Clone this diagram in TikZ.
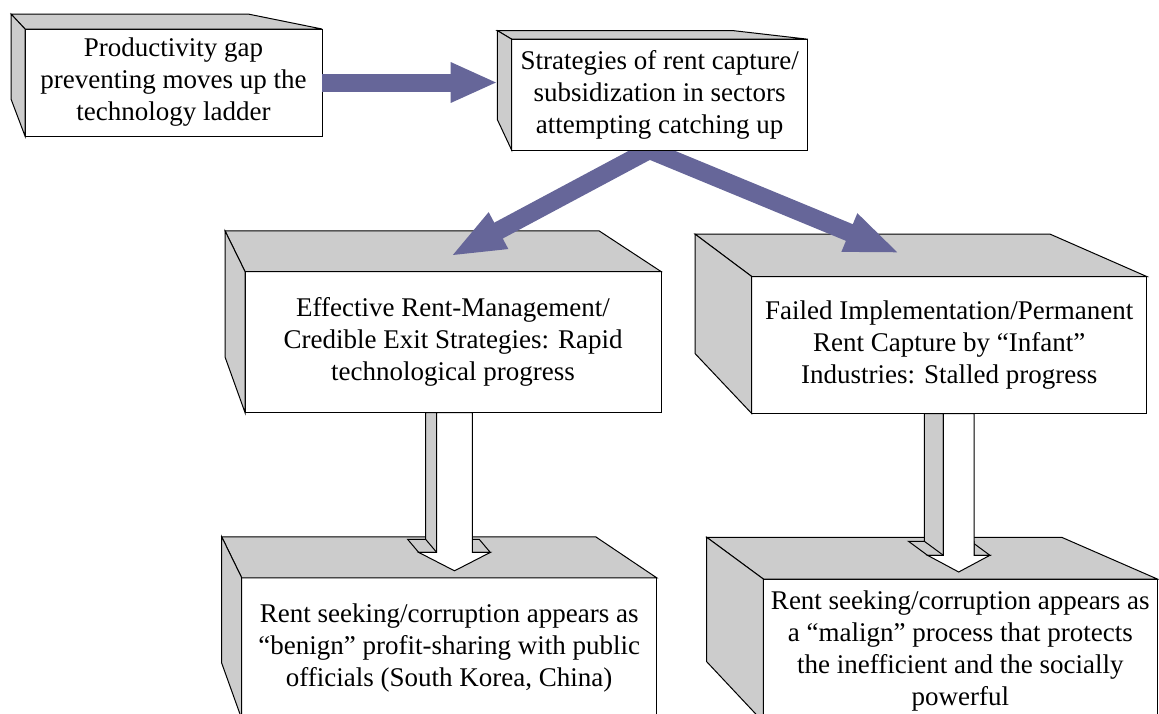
\documentclass[tikz,border=0pt]{standalone}
\usepackage{fontspec}
\setmainfont{Liberation Serif}
\usepackage{xcolor}
\usepackage{tikz}
\usetikzlibrary{calc, arrows.meta, positioning}

\definecolor{slate}{HTML}{666699}
\pgfdeclarelayer{front}
\pgfsetlayers{main,front}

\newcommand{\boxfaces}[5]{%
\draw[face] (#1.north west) -- ++(-#2,-#3) -- ($(#1.north east)+(-#4,-#3)$) -- (#1.north east) -- cycle;
\draw[face] (#1.north west) -- ++(-#2,-#3) -- ($(#1.south west)+(-#2,-#5)$) -- (#1.south west) -- cycle;
}

\newcommand{\blockarrow}[8]{%
\coordinate (#1top) at ($(#1.south)+(#3,0)$);
\coordinate (#1tip) at ($(#1top |- #2.north)+(0,-7)$);
\draw[face] ($(#1top)+(-#4-#7,0)$) -- ($(#1tip)+(-#4-#7,-#6-#8)$) -- ($(#1tip)+(-#5-#7,-#6-#8)$) -- ($(#1tip)+(-#5,-#6)$) -- ($(#1tip)+(-#4,-#6)$) -- ($(#1top)+(-#4,0)$) -- cycle;
\draw[face] ($(#1tip)+(#4,-#6-#8)$) -- ($(#1tip)+(#5-#7,-#6-#8)$) -- ($(#1tip)+(#5,-#6)$) -- ($(#1tip)+(#4,-#6)$) -- cycle;
\draw[line width=1pt] ($(#1tip)+(-#4-#7,-#6-#8)$) -- ($(#1tip)+(-#4,-#6)$);
\draw[hollow] ($(#1top)+(-#4,0)$) -- ($(#1tip)+(-#4,-#6)$) -- ($(#1tip)+(-#5,-#6)$) -- (#1tip) -- ($(#1tip)+(#5,-#6)$) -- ($(#1tip)+(#4,-#6)$) -- ($(#1top)+(#4,0)$) -- cycle;
}

\begin{document}
\begin{tikzpicture}[x=1pt, y=-1pt, font=\fontsize{27}{32}\selectfont]
\tikzstyle{block} = [draw=black, fill=white, rectangle, align=center, inner sep=0pt, outer sep=0pt, line width=1pt]
\tikzstyle{face} = [draw=black, fill=black!20, line width=1pt]
\tikzstyle{hollow} = [draw=black, fill=white, line width=1pt]
\tikzstyle{fat} = [draw=slate, line width=18pt, -{Triangle[length=47pt, width=37pt]}]
\tikzstyle{fatter} = [fat, -{Triangle[length=55pt, width=37pt]}]

\useasboundingbox (0,0) rectangle (1159,713);
\clip (0,0) rectangle (1159,713);

\node[block, minimum width=297, minimum height=107]	at (173.5, 82.5)	(gap)	{Productivity gap\\preventing moves up the\\technology ladder};
\node[block, minimum width=416, minimum height=141]	at (453, 342)		(eff)	{Effective Rent-Management/\\Credible Exit Strategies: Rapid\\technological progress};
\node[block, minimum width=395, minimum height=137]	at (949.2, 345)		(fail)	{Failed Implementation/Permanent\\Rent Capture by “Infant”\\Industries: Stalled progress};
\node[block, minimum width=415, minimum height=141]	at (449.2, 648.3)	(benign)	{Rent seeking/corruption appears as\\“benign” profit-sharing with public\\officials (South Korea, China)};
\node[block, minimum width=394, minimum height=143]	at (960.3, 650.5)	(malign)	{Rent seeking/corruption appears as\\a “malign” process that protects\\the inefficient and the socially\\powerful};

\boxfaces{gap}{14}{15}{74}{37}
\boxfaces{eff}{20}{40.7}{62}{55.6}
\boxfaces{fail}{56.7}{42.4}{96.7}{60}
\boxfaces{benign}{20}{41}{61}{55.7}
\boxfaces{malign}{56.6}{41.7}{95.6}{60.3}

\begin{pgfonlayer}{front}
\node[block, minimum width=296, minimum height=111]	at (659.7, 94.7)	(strat)	{Strategies of rent capture/\\subsidization in sectors\\attempting catching up};
\boxfaces{strat}{14.4}{8.6}{74.7}{30.7}
\end{pgfonlayer}

\draw[fat] (gap.east) -- ($(gap.east -| strat.west)+(-14,0)$);
\draw[fatter] ($(strat.south)+(8,-10)$) -- ($(eff.north)+(-3,-15)$);
\draw[fatter] ($(strat.south)+(-34,-10)$) -- ($(fail.north)+(-49,-23)$);

\blockarrow{eff}{benign}{1.5}{17.8}{35.8}{18.4}{11}{13}
\blockarrow{fail}{malign}{9.5}{15.35}{31.2}{16.7}{19}{14}
\end{tikzpicture}
\end{document}
